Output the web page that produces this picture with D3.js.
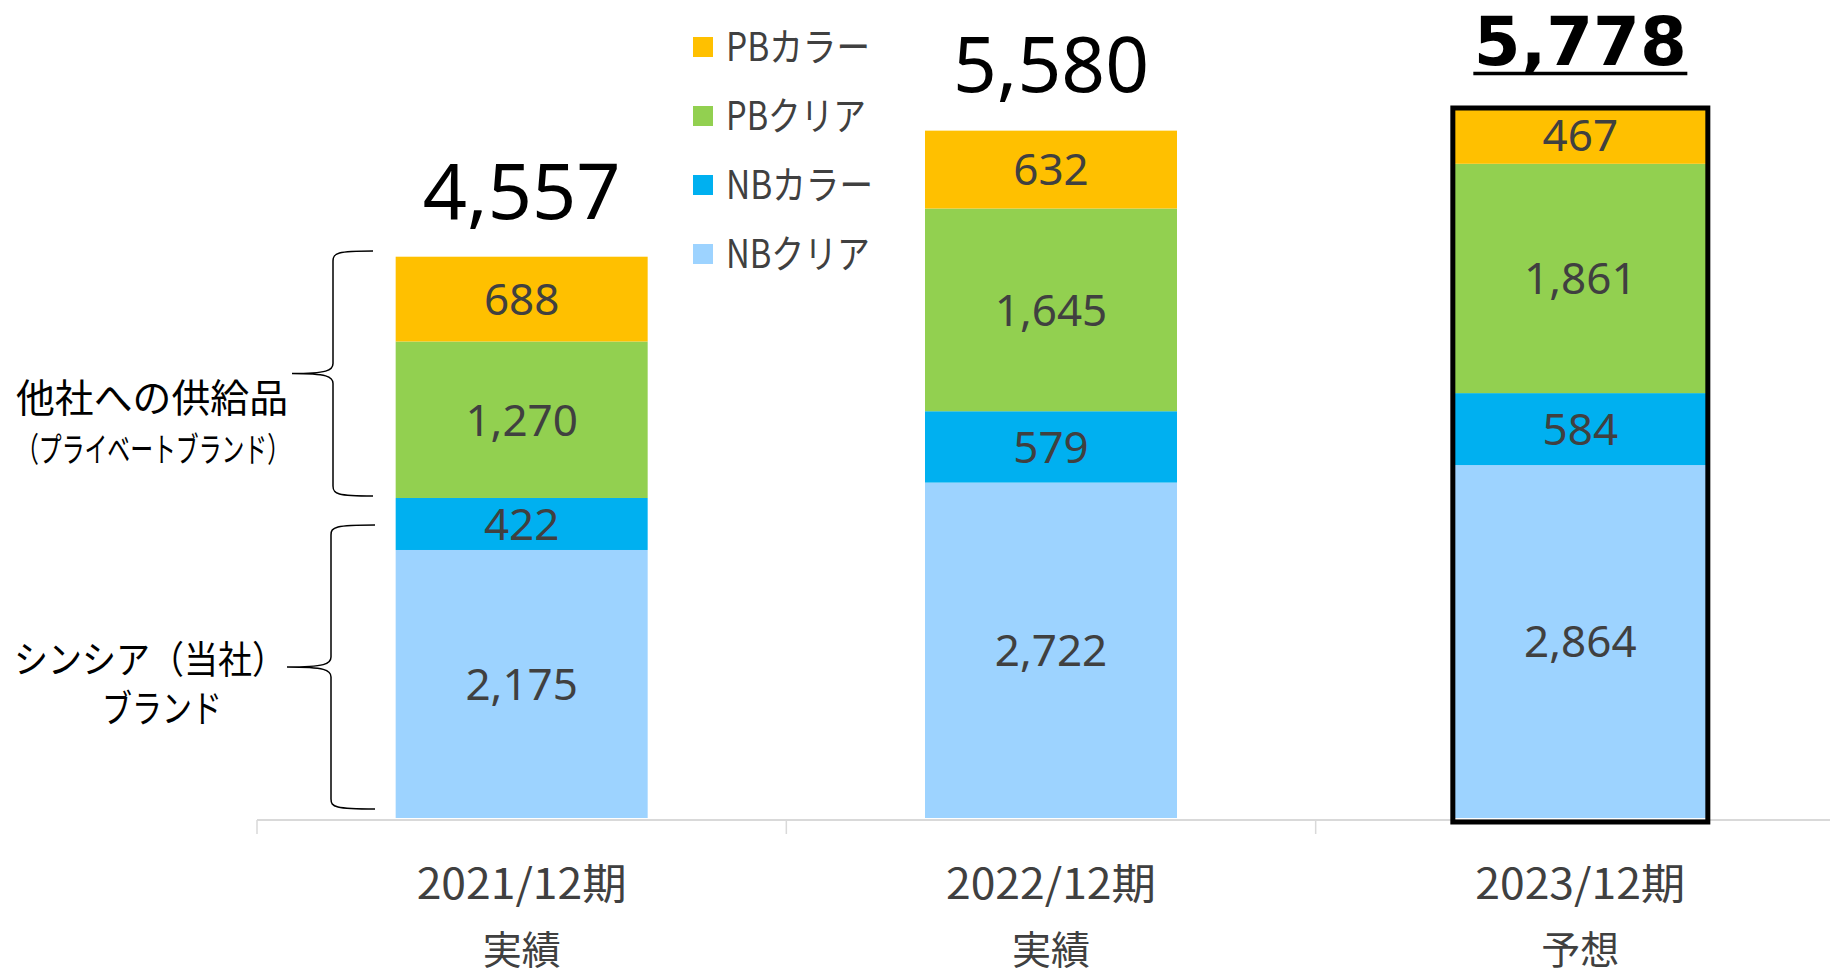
<!DOCTYPE html>
<html>
<head>
<meta charset="utf-8">
<script src="https://cdn.jsdelivr.net/npm/d3@7"></script>
<style>
  html, body { margin: 0; padding: 0; background: #fff; }
  svg { display: block; }
  text { font-family: "Noto Sans CJK JP", "Noto Sans", sans-serif; }
</style>
</head>
<body>
<div id="chart"></div>
<script>
const width = 1830;
const height = 971;

// data
const periods = ['2021/12期', '2022/12期', '2023/12期'];
const periodNotes = ['実績', '実績', '予想'];
const seriesNames = ['NBクリア', 'NBカラー', 'PBクリア', 'PBカラー'];
const nbClear = [2175, 2722, 2864];
const nbColor = [422, 579, 584];
const pbClear = [1270, 1645, 1861];
const pbColor = [688, 632, 467];
const totals = [4557, 5580, 5778];
const legendOrder = ['PBカラー', 'PBクリア', 'NBカラー', 'NBクリア'];

const colors = {
    'NBクリア': '#9DD3FF',
    'NBカラー': '#00B0F0',
    'PBクリア': '#92D050',
    'PBカラー': '#FFC000'
};

const rows = periods.map((p, i) => ({
    period: p,
    'NBクリア': nbClear[i],
    'NBカラー': nbColor[i],
    'PBクリア': pbClear[i],
    'PBカラー': pbColor[i]
}));

const stacked = d3.stack().keys(seriesNames)(rows);

const baseY = 818;
const y = d3.scaleLinear()
    .domain([0, 5778])
    .range([baseY, baseY - 712]);

const x = d3.scaleBand()
    .domain(periods)
    .range([257, 1845])
    .padding(0);

const barW = 252;
const barX = d => x(d) + (x.bandwidth() - barW) / 2;
const mid = d => x(d) + x.bandwidth() / 2;

const svg = d3.select('#chart')
    .append('svg')
    .attr('width', width)
    .attr('height', height);

// axis line with ticks going down
const axis = svg.append('g')
    .attr('transform', `translate(0, ${baseY + 2})`);
axis.append('line')
    .attr('x1', 257).attr('x2', width)
    .attr('y1', 0).attr('y2', 0)
    .attr('stroke', '#d9d9d9')
    .attr('stroke-width', 2);
axis.selectAll('line.tick')
    .data(periods)
    .join('line')
    .attr('class', 'tick')
    .attr('x1', d => x(d)).attr('x2', d => x(d))
    .attr('y1', 0).attr('y2', 14)
    .attr('stroke', '#d9d9d9')
    .attr('stroke-width', 1.5);

// stacked bars
const layer = svg.selectAll('g.layer')
    .data(stacked)
    .join('g')
    .attr('class', 'layer')
    .attr('fill', d => colors[d.key]);

layer.selectAll('rect')
    .data(d => d)
    .join('rect')
    .attr('x', d => barX(d.data.period))
    .attr('y', d => y(d[1]))
    .attr('width', barW)
    .attr('height', d => y(d[0]) - y(d[1]));

// segment labels
layer.selectAll('text')
    .data(d => d)
    .join('text')
    .attr('x', d => mid(d.data.period))
    .attr('y', d => (y(d[0]) + y(d[1])) / 2)
    .attr('dy', '0.36em')
    .attr('text-anchor', 'middle')
    .attr('fill', '#404040')
    .style('font-family', '"Noto Sans", sans-serif')
    .style('font-size', '44px')
    .text(d => d3.format(',')(d[1] - d[0]));

// forecast box
const last = periods[2];
svg.append('rect')
    .attr('x', barX(last) - 1.5)
    .attr('y', y(totals[2]) + 2)
    .attr('width', barW + 3)
    .attr('height', baseY - y(totals[2]) + 2)
    .attr('fill', 'none')
    .attr('stroke', '#000')
    .attr('stroke-width', 5);

// totals
const totalY = [219, 92, 65];
const totalW = [198, 196, 213];
svg.selectAll('text.total')
    .data(periods)
    .join('text')
    .attr('class', 'total')
    .attr('x', (d, i) => mid(d) - totalW[i] / 2)
    .attr('y', (d, i) => totalY[i])
    .attr('textLength', (d, i) => totalW[i])
    .attr('lengthAdjust', 'spacingAndGlyphs')
    .attr('fill', '#000')
    .style('font-family', (d, i) => i === 2 ? '"DejaVu Sans", sans-serif' : '"Noto Sans", sans-serif')
    .style('font-size', (d, i) => i === 2 ? '68px' : '77px')
    .style('font-weight', (d, i) => i === 2 ? 'bold' : 'normal')
    .text((d, i) => d3.format(',')(totals[i]));

svg.append('line')
    .attr('x1', mid(last) - 107)
    .attr('x2', mid(last) + 107)
    .attr('y1', 73.5).attr('y2', 73.5)
    .attr('stroke', '#000')
    .attr('stroke-width', 3.5);

// category labels
svg.selectAll('text.cat')
    .data(periods)
    .join('text')
    .attr('class', 'cat')
    .attr('x', d => mid(d) - 105)
    .attr('y', 899)
    .attr('textLength', 210)
    .attr('lengthAdjust', 'spacingAndGlyphs')
    .attr('fill', '#404040')
    .style('font-size', '42px')
    .text(d => d);

svg.selectAll('text.note')
    .data(periodNotes)
    .join('text')
    .attr('class', 'note')
    .attr('x', (d, i) => mid(periods[i]))
    .attr('y', 964)
    .attr('text-anchor', 'middle')
    .attr('fill', '#404040')
    .style('font-size', '39px')
    .text(d => d);

// legend
const legendW = [144, 140, 147, 144];
const legend = svg.append('g')
    .attr('transform', 'translate(693, 47)');
const item = legend.selectAll('g')
    .data(legendOrder)
    .join('g')
    .attr('transform', (d, i) => `translate(0, ${i * 69})`);
item.append('rect')
    .attr('x', 0).attr('y', -10)
    .attr('width', 20).attr('height', 20)
    .attr('fill', d => colors[d]);
item.append('text')
    .attr('x', 33)
    .attr('y', 0)
    .attr('dy', '0.36em')
    .attr('textLength', (d, i) => legendW[i])
    .attr('lengthAdjust', 'spacingAndGlyphs')
    .attr('fill', '#404040')
    .style('font-size', '39px')
    .text(d => d);

// braces
function brace(top, bottom, xv, xe, xt) {
    const m = (top + bottom) / 2;
    const r = 10;
    return `M${xe},${top} C${xv + 4},${top} ${xv},${top + 2} ${xv},${top + r}`
        + ` L${xv},${m - r}`
        + ` C${xv},${m - 3} ${xv - 6},${m} ${xt},${m}`
        + ` C${xv - 6},${m} ${xv},${m + 3} ${xv},${m + r}`
        + ` L${xv},${bottom - r}`
        + ` C${xv},${bottom - 2} ${xv + 4},${bottom} ${xe},${bottom}`;
}
svg.append('path')
    .attr('d', brace(251, 496, 333, 373, 292))
    .attr('fill', 'none').attr('stroke', '#000').attr('stroke-width', 1.5);
svg.append('path')
    .attr('d', brace(525, 809, 331, 375, 287))
    .attr('fill', 'none').attr('stroke', '#000').attr('stroke-width', 1.5);

const sideLabels = [
    { text: '他社への供給品', x: 152, y: 398, size: 39, len: 272 },
    { text: '（プライベートブランド）', x: 153, y: 450, size: 34, len: 274 },
    { text: 'シンシア（当社）', x: 150, y: 659, size: 38, len: 272 },
    { text: 'ブランド', x: 162, y: 708, size: 38, len: 120 }
];
svg.selectAll('text.side')
    .data(sideLabels)
    .join('text')
    .attr('class', 'side')
    .attr('x', d => d.x - d.len / 2)
    .attr('y', d => d.y)
    .attr('dy', '0.36em')
    .attr('textLength', d => d.len)
    .attr('lengthAdjust', 'spacingAndGlyphs')
    .attr('fill', '#000')
    .style('font-size', d => d.size + 'px')
    .text(d => d.text);
</script>
</body>
</html>
